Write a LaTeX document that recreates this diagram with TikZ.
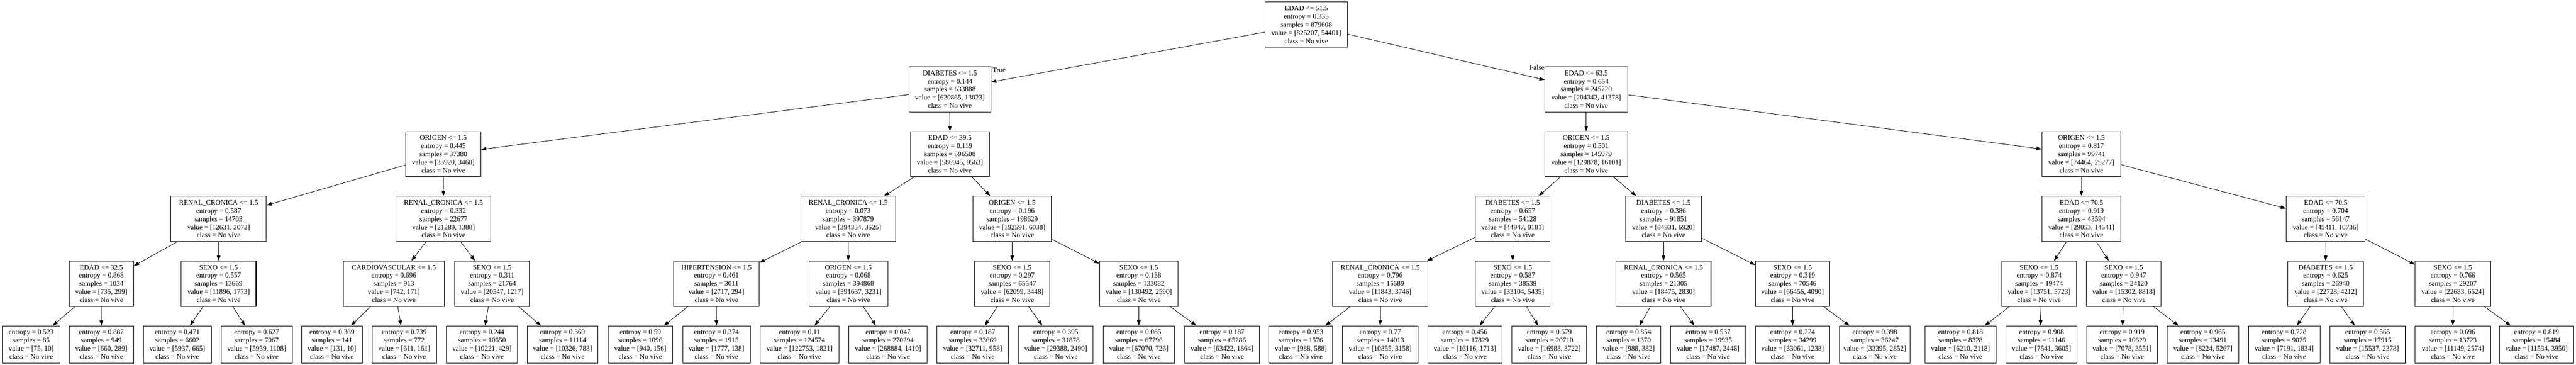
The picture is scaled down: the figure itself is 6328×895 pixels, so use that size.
\documentclass[tikz,border=0pt]{standalone}
\usepackage{fontspec}
\setmainfont{Liberation Serif}
\usetikzlibrary{arrows.meta}
\newcommand\ntext[4]{#1\\entropy = #2\\samples = #3\\value = [#4]\\class = No vive}
\newcommand\ltext[3]{entropy = #1\\samples = #2\\value = [#3]\\class = No vive}
\tikzset{
  box/.style={draw=black, fill=white, line width=1.3pt, inner sep=0pt, minimum height=111pt,
    align=center, font=\fontsize{17.3pt}{20.1pt}\selectfont},
  leaf/.style={box, minimum height=91pt},
  edge/.style={line width=1.1pt, -{Triangle[length=13pt,width=9pt]}},
  lbl/.style={inner sep=0pt, font=\fontsize{17.3pt}{20.1pt}\selectfont}
}
\begin{document}
\begin{tikzpicture}[x=1pt,y=-1pt]
\useasboundingbox (0,0) rectangle (6328,895);
\fill[white] (0,0) rectangle (6328,895);
% level 0
\node[box, minimum width=202pt] (r) at (3209,60.5) {\ntext{EDAD <= 51.5}{0.335}{879608}{825207, 54401}};
% level 1
\node[box, minimum width=201pt] (D1) at (2333.5,219.5) {\ntext{DIABETES <= 1.5}{0.144}{633888}{620865, 13023}};
\node[box, minimum width=203pt] (E1) at (3896.5,219.5) {\ntext{EDAD <= 63.5}{0.654}{245720}{204342, 41378}};
% level 2
\node[box, minimum width=184pt] (O2a) at (1089,378.5) {\ntext{ORIGEN <= 1.5}{0.445}{37380}{33920, 3460}};
\node[box, minimum width=193pt] (E2) at (2333.5,378.5) {\ntext{EDAD <= 39.5}{0.119}{596508}{586945, 9563}};
\node[box, minimum width=203pt] (O2b) at (3896.5,378.5) {\ntext{ORIGEN <= 1.5}{0.501}{145979}{129878, 16101}};
\node[box, minimum width=194pt] (O2c) at (5113,378.5) {\ntext{ORIGEN <= 1.5}{0.817}{99741}{74464, 25277}};
% level 3
\node[box, minimum width=234pt] (R3a) at (537,537.5) {\ntext{RENAL\_CRONICA <= 1.5}{0.587}{14703}{12631, 2072}};
\node[box, minimum width=233pt] (R3b) at (1089.5,537.5) {\ntext{RENAL\_CRONICA <= 1.5}{0.332}{22677}{21289, 1388}};
\node[box, minimum width=233pt] (R3c) at (2083.5,537.5) {\ntext{RENAL\_CRONICA <= 1.5}{0.073}{397879}{394354, 3525}};
\node[box, minimum width=193pt] (O3) at (2486.5,537.5) {\ntext{ORIGEN <= 1.5}{0.196}{198629}{192591, 6038}};
\node[box, minimum width=184pt] (D3a) at (3716,537.5) {\ntext{DIABETES <= 1.5}{0.657}{54128}{44947, 9181}};
\node[box, minimum width=185pt] (D3b) at (4086.5,537.5) {\ntext{DIABETES <= 1.5}{0.386}{91851}{84931, 6920}};
\node[box, minimum width=194pt] (E3a) at (5113,537.5) {\ntext{EDAD <= 70.5}{0.919}{43594}{29053, 14541}};
\node[box, minimum width=194pt] (E3b) at (5713,537.5) {\ntext{EDAD <= 70.5}{0.704}{56147}{45411, 10736}};
% level 4
\node[box, minimum width=158pt] (E4) at (249,696.5) {\ntext{EDAD <= 32.5}{0.868}{1034}{735, 299}};
\node[box, minimum width=184pt] (S4a) at (537,696.5) {\ntext{SEXO <= 1.5}{0.557}{13669}{11896, 1773}};
\node[box, minimum width=249pt] (C4) at (967.5,696.5) {\ntext{CARDIOVASCULAR <= 1.5}{0.696}{913}{742, 171}};
\node[box, minimum width=184pt] (S4b) at (1209,696.5) {\ntext{SEXO <= 1.5}{0.311}{21764}{20547, 1217}};
\node[box, minimum width=210pt] (H4) at (1760,696.5) {\ntext{HIPERTENSION <= 1.5}{0.461}{3011}{2717, 294}};
\node[box, minimum width=194pt] (O4) at (2084,696.5) {\ntext{ORIGEN <= 1.5}{0.068}{394868}{391637, 3231}};
\node[box, minimum width=185pt] (S4c) at (2486.5,696.5) {\ntext{SEXO <= 1.5}{0.297}{65547}{62099, 3448}};
\node[box, minimum width=193pt] (S4d) at (2797.5,696.5) {\ntext{SEXO <= 1.5}{0.138}{133082}{130492, 2590}};
\node[box, minimum width=233pt] (R4a) at (3390.5,696.5) {\ntext{RENAL\_CRONICA <= 1.5}{0.796}{15589}{11843, 3746}};
\node[box, minimum width=184pt] (S4e) at (3716,696.5) {\ntext{SEXO <= 1.5}{0.587}{38539}{33104, 5435}};
\node[box, minimum width=233pt] (R4b) at (4086.5,696.5) {\ntext{RENAL\_CRONICA <= 1.5}{0.565}{21305}{18475, 2830}};
\node[box, minimum width=183pt] (S4f) at (4403.5,696.5) {\ntext{SEXO <= 1.5}{0.319}{70546}{66456, 4090}};
\node[box, minimum width=184pt] (S4g) at (5009,696.5) {\ntext{SEXO <= 1.5}{0.874}{19474}{13751, 5723}};
\node[box, minimum width=184pt] (S4h) at (5217,696.5) {\ntext{SEXO <= 1.5}{0.947}{24120}{15302, 8818}};
\node[box, minimum width=186pt] (D4) at (5713,696.5) {\ntext{DIABETES <= 1.5}{0.625}{26940}{22728, 4212}};
\node[box, minimum width=185pt] (S4i) at (6025.5,696.5) {\ntext{SEXO <= 1.5}{0.766}{29207}{22683, 6524}};
% leaves
\node[leaf, minimum width=141pt] (l1) at (76.5,845.5) {\ltext{0.523}{85}{75, 10}};
\node[leaf, minimum width=158pt] (l2) at (249,845.5) {\ltext{0.887}{949}{660, 289}};
\node[leaf, minimum width=167pt] (l3) at (435.5,845.5) {\ltext{0.471}{6602}{5937, 665}};
\node[leaf, minimum width=175pt] (l4) at (630.5,845.5) {\ltext{0.627}{7067}{5959, 1108}};
\node[leaf, minimum width=149pt] (l5) at (815.5,845.5) {\ltext{0.369}{141}{131, 10}};
\node[leaf, minimum width=158pt] (l6) at (993,845.5) {\ltext{0.739}{772}{611, 161}};
\node[leaf, minimum width=174pt] (l7) at (1184,845.5) {\ltext{0.244}{10650}{10221, 429}};
\node[leaf, minimum width=174pt] (l8) at (1382,845.5) {\ltext{0.369}{11114}{10326, 788}};
\node[leaf, minimum width=158pt] (l9) at (1573,845.5) {\ltext{0.59}{1096}{940, 156}};
\node[leaf, minimum width=166pt] (l10) at (1760,845.5) {\ltext{0.374}{1915}{1777, 138}};
\node[leaf, minimum width=194pt] (l11) at (1964,845.5) {\ltext{0.11}{124574}{122753, 1821}};
\node[leaf, minimum width=193pt] (l12) at (2181.5,845.5) {\ltext{0.047}{270294}{268884, 1410}};
\node[leaf, minimum width=175pt] (l13) at (2389.5,845.5) {\ltext{0.187}{33669}{32711, 958}};
\node[leaf, minimum width=183pt] (l14) at (2593.5,845.5) {\ltext{0.395}{31878}{29388, 2490}};
\node[leaf, minimum width=175pt] (l15) at (2797.5,845.5) {\ltext{0.085}{67796}{67070, 726}};
\node[leaf, minimum width=184pt] (l16) at (3002,845.5) {\ltext{0.187}{65286}{63422, 1864}};
\node[leaf, minimum width=157pt] (l17) at (3195.5,845.5) {\ltext{0.953}{1576}{988, 588}};
\node[leaf, minimum width=185pt] (l18) at (3390.5,845.5) {\ltext{0.77}{14013}{10855, 3158}};
\node[leaf, minimum width=183pt] (l19) at (3598.5,845.5) {\ltext{0.456}{17829}{16116, 1713}};
\node[leaf, minimum width=184pt] (l20) at (3806,845.5) {\ltext{0.679}{20710}{16988, 3722}};
\node[leaf, minimum width=158pt] (l21) at (4001,845.5) {\ltext{0.854}{1370}{988, 382}};
\node[leaf, minimum width=184pt] (l22) at (4196,845.5) {\ltext{0.537}{19935}{17487, 2448}};
\node[leaf, minimum width=183pt] (l23) at (4403.5,845.5) {\ltext{0.224}{34299}{33061, 1238}};
\node[leaf, minimum width=173pt] (l24) at (4605.5,845.5) {\ltext{0.398}{36247}{33395, 2852}};
\node[leaf, minimum width=174pt] (l25) at (4816,845.5) {\ltext{0.818}{8328}{6210, 2118}};
\node[leaf, minimum width=174pt] (l26) at (5015,845.5) {\ltext{0.908}{11146}{7541, 3605}};
\node[leaf, minimum width=174pt] (l27) at (5213,845.5) {\ltext{0.919}{10629}{7078, 3551}};
\node[leaf, minimum width=175pt] (l28) at (5411.5,845.5) {\ltext{0.965}{13491}{8224, 5267}};
\node[leaf, minimum width=176pt] (l29) at (5611,845.5) {\ltext{0.728}{9025}{7191, 1834}};
\node[leaf, minimum width=186pt] (l30) at (5816,845.5) {\ltext{0.565}{17915}{15537, 2378}};
\node[leaf, minimum width=185pt] (l31) at (6025.5,845.5) {\ltext{0.696}{13723}{11149, 2574}};
\node[leaf, minimum width=182pt] (l32) at (6231,845.5) {\ltext{0.819}{15484}{11534, 3950}};
% edges
\foreach \a/\b in {r/D1, r/E1, D1/O2a, D1/E2, E1/O2b, E1/O2c,
  O2a/R3a, O2a/R3b, E2/R3c, E2/O3, O2b/D3a, O2b/D3b, O2c/E3a, O2c/E3b,
  R3a/E4, R3a/S4a, R3b/C4, R3b/S4b, R3c/H4, R3c/O4, O3/S4c, O3/S4d,
  D3a/R4a, D3a/S4e, D3b/R4b, D3b/S4f, E3a/S4g, E3a/S4h, E3b/D4, E3b/S4i,
  E4/l1, E4/l2, S4a/l3, S4a/l4, C4/l5, C4/l6, S4b/l7, S4b/l8,
  H4/l9, H4/l10, O4/l11, O4/l12, S4c/l13, S4c/l14, S4d/l15, S4d/l16,
  R4a/l17, R4a/l18, S4e/l19, S4e/l20, R4b/l21, R4b/l22, S4f/l23, S4f/l24,
  S4g/l25, S4g/l26, S4h/l27, S4h/l28, D4/l29, D4/l30, S4i/l31, S4i/l32}
  \draw[edge] (\a) -- (\b);
% edge labels
\node[lbl, anchor=base west] (tl) at (2438,178) {True};
\node[lbl, anchor=base east] (fl) at (3794,172) {False};
\end{tikzpicture}
\end{document}
